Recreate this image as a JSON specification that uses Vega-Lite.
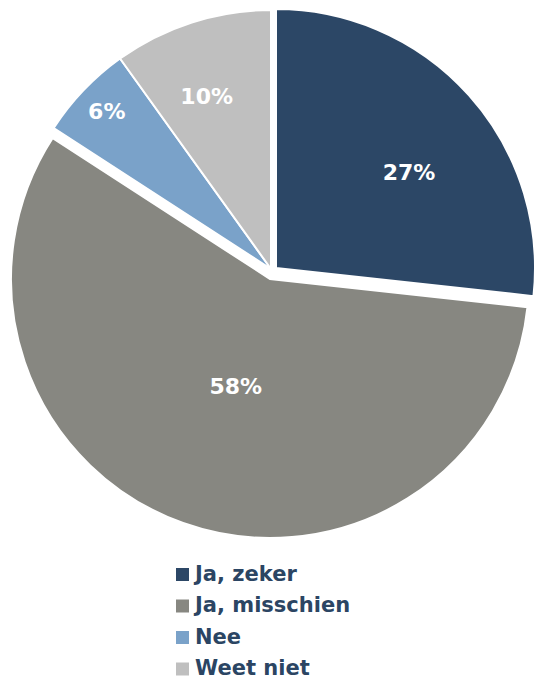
{
  "$schema": "https://vega.github.io/schema/vega-lite/v6.json",
  "width": 542,
  "height": 538,
  "padding": {"left": 0, "top": 0, "right": 0, "bottom": 141},
  "autosize": "none",
  "background": "white",
  "config": {"view": {"stroke": null}},
  "data": {"values": [
    {"category": "Ja, zeker", "value": 27, "label": "27%", "order": 1},
    {"category": "Ja, misschien", "value": 58, "label": "58%", "order": 2},
    {"category": "Nee", "value": 6, "label": "6%", "order": 3},
    {"category": "Weet niet", "value": 10, "label": "10%", "order": 4}
  ]},
  "transform": [
    {"stack": "value", "groupby": [], "sort": [{"field": "order", "order": "ascending"}], "as": ["start", "end"]}
  ],
  "encoding": {
    "color": {
      "field": "category", "type": "nominal",
      "scale": {"domain": ["Ja, zeker", "Ja, misschien", "Nee", "Weet niet"], "range": ["#2c4766", "#878781", "#7aa2c9", "#bfbfbf"]},
      "legend": {
        "orient": "none", "legendX": 172, "legendY": 564, "direction": "vertical", "title": null,
        "symbolType": "square", "symbolSize": 169, "symbolStrokeWidth": 0,
        "labelFont": "DejaVu Sans", "labelFontWeight": "bold", "labelFontSize": 21, "labelColor": "#2b4563",
        "rowPadding": 9.5, "labelOffset": 2
      }
    }
  },
  "layer": [
    {"transform": [{"filter": "datum.order == 1"}], "mark": {"type": "arc", "outerRadius": 259, "stroke": "white", "strokeWidth": 2, "xOffset": 5, "yOffset": -1},
     "encoding": {"theta": {"field": "start", "type": "quantitative", "scale": {"domain": [0, 101]}}, "theta2": {"field": "end"}}},
    {"transform": [{"filter": "datum.order == 2"}], "mark": {"type": "arc", "outerRadius": 259, "stroke": "white", "strokeWidth": 2, "xOffset": -1, "yOffset": 10},
     "encoding": {"theta": {"field": "start", "type": "quantitative", "scale": {"domain": [0, 101]}}, "theta2": {"field": "end"}}},
    {"transform": [{"filter": "datum.order > 2"}], "mark": {"type": "arc", "outerRadius": 259, "stroke": "white", "strokeWidth": 2},
     "encoding": {"theta": {"field": "start", "type": "quantitative", "scale": {"domain": [0, 101]}}, "theta2": {"field": "end"}}},
    {"mark": {"type": "text", "radius": 168, "xOffset": 13, "yOffset": 16, "font": "DejaVu Sans", "fontWeight": "bold", "fontSize": 22},
     "encoding": {"theta": {"field": "value", "type": "quantitative", "stack": true}, "order": {"field": "order"}, "text": {"condition": {"test": "datum.order == 1", "field": "label"}, "value": ""}, "color": {"value": "white"}}},
    {"mark": {"type": "text", "radius": 111, "xOffset": 2, "yOffset": 13, "font": "DejaVu Sans", "fontWeight": "bold", "fontSize": 22},
     "encoding": {"theta": {"field": "value", "type": "quantitative", "stack": true}, "order": {"field": "order"}, "text": {"condition": {"test": "datum.order == 2", "field": "label"}, "value": ""}, "color": {"value": "white"}}},
    {"mark": {"type": "text", "radius": 227, "font": "DejaVu Sans", "fontWeight": "bold", "fontSize": 22},
     "encoding": {"theta": {"field": "value", "type": "quantitative", "stack": true}, "order": {"field": "order"}, "text": {"condition": {"test": "datum.order == 3", "field": "label"}, "value": ""}, "color": {"value": "white"}}},
    {"mark": {"type": "text", "radius": 184, "xOffset": -8, "yOffset": 3, "font": "DejaVu Sans", "fontWeight": "bold", "fontSize": 22},
     "encoding": {"theta": {"field": "value", "type": "quantitative", "stack": true}, "order": {"field": "order"}, "text": {"condition": {"test": "datum.order == 4", "field": "label"}, "value": ""}, "color": {"value": "white"}}}
  ]
}
